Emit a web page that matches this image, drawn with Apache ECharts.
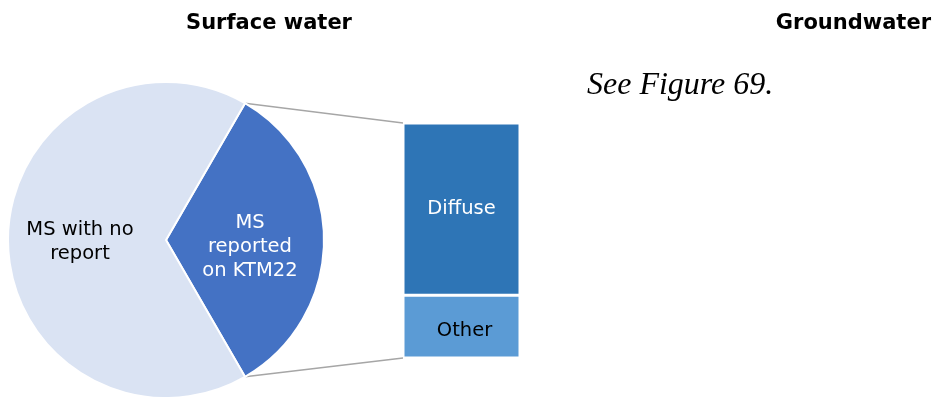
<!DOCTYPE html>
<html>
<head>
<meta charset="utf-8">
<script src="https://cdn.jsdelivr.net/npm/echarts@6/dist/echarts.min.js"></script>
<style>
html,body{margin:0;padding:0;background:#fff;}
#chart{width:936px;height:397px;}
</style>
</head>
<body>
<div id="chart"></div>
<script>
// Data
const pieNames = ['MS\nreported\non KTM22', 'MS with no\nreport'];
const pieValues = [9, 18];
const barCategories = ['KTM22'];
const barNames = ['Other', 'Diffuse'];
const barValues = [[4], [11]];
const titles = ['Surface water', 'Groundwater', 'See Figure 69.'];

const chart = echarts.init(document.getElementById('chart'), null, {renderer: 'canvas'});
const font = 'DejaVu Sans';
const serif = 'Liberation Serif';
const pieCenter = [166, 240];
const pieRadius = 158;
const startAngle = 60;
const total = pieValues.reduce((a, b) => a + b, 0);
const barTotal = barValues.reduce((a, b) => a + b[0], 0);

chart.setOption({
  animation: false,
  title: [
    {text: titles[0], left: 264, top: 8, textAlign: 'center',
     textStyle: {fontFamily: font, fontWeight: 'bold', fontSize: 21, color: '#000'}},
    {text: titles[1], right: 0, top: 8,
     textStyle: {fontFamily: font, fontWeight: 'bold', fontSize: 21, color: '#000'}},
    {text: titles[2], left: 582, top: 65,
     textStyle: {fontFamily: serif, fontStyle: 'italic', fontWeight: 'normal', fontSize: 32, color: '#000'}}
  ],
  grid: {left: 403, top: 123, width: 117, height: 235},
  xAxis: {type: 'category', data: barCategories, show: false},
  yAxis: {type: 'value', min: 0, max: barTotal, show: false},
  series: [
    {
      type: 'pie',
      center: pieCenter,
      radius: pieRadius,
      startAngle: startAngle,
      clockwise: true,
      silent: true,
      data: pieNames.map((n, i) => ({name: n, value: pieValues[i],
        label: {color: i === 0 ? '#fff' : '#000', offset: i === 0 ? [2, 7] : [-4, 2]}})),
      itemStyle: {borderColor: '#fff', borderWidth: 2},
      color: ['#4472C4', '#DAE3F3'],
      label: {
        position: 'inside',
        formatter: '{b}',
        fontFamily: font,
        fontSize: 19.5,
        lineHeight: 24
      },
      labelLine: {show: false},
      emphasis: {disabled: true}
    },
    ...barNames.map((n, i) => ({
      type: 'bar',
      name: n,
      stack: 'total',
      data: barValues[i],
      barWidth: '100%',
      color: i === 0 ? '#5B9BD5' : '#2E75B6',
      itemStyle: {borderColor: '#fff', borderWidth: 1.5},
      label: {show: true, position: 'inside', formatter: n, fontFamily: font, fontSize: 19.5,
              color: i === 0 ? '#000' : '#fff', offset: i === 0 ? [3, 4] : [0, 0]},
      silent: true
    }))
  ]
});

// Connector lines from the pie slice edges to the bar corners
const a1 = startAngle * Math.PI / 180;
const a2 = (startAngle - 360 * pieValues[0] / total) * Math.PI / 180;
const p1 = [pieCenter[0] + pieRadius * Math.cos(a1), pieCenter[1] - pieRadius * Math.sin(a1)];
const p2 = [pieCenter[0] + pieRadius * Math.cos(a2), pieCenter[1] - pieRadius * Math.sin(a2)];
const topPt = chart.convertToPixel({gridIndex: 0}, [0, barTotal]);
const botPt = chart.convertToPixel({gridIndex: 0}, [0, 0]);
const barLeft = topPt[0] - 117 / 2;
chart.setOption({
  graphic: [
    {type: 'line', shape: {x1: p1[0], y1: p1[1], x2: barLeft, y2: topPt[1]},
     style: {stroke: '#A6A6A6', lineWidth: 1.5}, z: -1},
    {type: 'line', shape: {x1: p2[0], y1: p2[1], x2: barLeft, y2: botPt[1]},
     style: {stroke: '#A6A6A6', lineWidth: 1.5}, z: -1}
  ]
});
</script>
</body>
</html>
